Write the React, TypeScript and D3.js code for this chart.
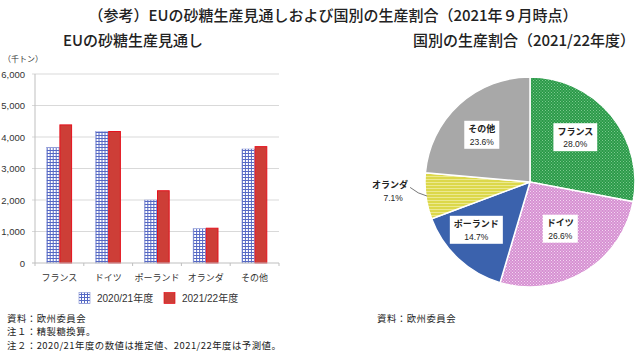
import { useRef, useEffect } from "react";
import * as d3 from "d3";

const categories = ["フランス", "ドイツ", "ポーランド", "オランダ", "その他"];
const seriesNames = ["2020/21年度", "2021/22年度"];
const values2021 = [3670, 4170, 2000, 1090, 3620];
const values2122 = [4400, 4190, 2310, 1120, 3710];
const yTicks = [0, 1000, 2000, 3000, 4000, 5000, 6000];

const pieNames = ["フランス", "ドイツ", "ポーランド", "オランダ", "その他"];
const pieShares = [28.0, 26.6, 14.7, 7.1, 23.6];

const footnotes = [
  "資料：欧州委員会",
  "注１：精製糖換算。",
  "注２：2020/21年度の数値は推定値、2021/22年度は予測値。",
];

const width = 640;
const height = 353;
const jp = "'Noto Sans CJK JP', 'Liberation Sans', sans-serif";
const num = "'Liberation Sans', 'Noto Sans CJK JP', sans-serif";

const App = () => {
  const svgRef = useRef<SVGSVGElement>(null);

  useEffect(() => {
    const svg = d3.select(svgRef.current).attr("width", width).attr("height", height);
    svg.selectAll("*").remove();

    // patterns
    const defs = svg.append("defs");
    const grid = defs.append("pattern").attr("id", "pGrid").attr("width", 3).attr("height", 3).attr("patternUnits", "userSpaceOnUse");
    grid.append("rect").attr("width", 3).attr("height", 3).attr("fill", "#ffffff");
    grid.append("rect").attr("width", 3).attr("height", 1).attr("fill", "#5568c4");
    grid.append("rect").attr("width", 1).attr("height", 3).attr("fill", "#5568c4");

    const dots = (id: string, base: string, dot: string) => {
      const p = defs.append("pattern").attr("id", id).attr("width", 3).attr("height", 3).attr("patternUnits", "userSpaceOnUse");
      p.append("rect").attr("width", 3).attr("height", 3).attr("fill", base);
      p.append("rect").attr("width", 1).attr("height", 1).attr("fill", dot);
      p.append("rect").attr("x", 1.5).attr("y", 1.5).attr("width", 1).attr("height", 1).attr("fill", dot);
    };
    dots("pGreen", "#2a9a48", "#7cc88f");
    dots("pPink", "#d690d2", "#f3d8f1");
    const yl = defs.append("pattern").attr("id", "pYellow").attr("width", 3).attr("height", 3).attr("patternUnits", "userSpaceOnUse");
    yl.append("rect").attr("width", 3).attr("height", 3).attr("fill", "#dcd84a");
    yl.append("rect").attr("width", 3).attr("height", 1).attr("fill", "#ece98f");

    // titles
    svg.append("text").attr("x", 333).attr("y", 14).attr("text-anchor", "middle").attr("dominant-baseline", "central")
      .attr("font-family", jp).attr("font-size", 15).attr("font-weight", 500).attr("fill", "#222")
      .text("（参考）EUの砂糖生産見通しおよび国別の生産割合（2021年９月時点）");
    svg.append("text").attr("x", 133).attr("y", 39).attr("text-anchor", "middle").attr("dominant-baseline", "central")
      .attr("font-family", jp).attr("font-size", 15).attr("font-weight", 500).attr("fill", "#222")
      .text("EUの砂糖生産見通し");
    svg.append("text").attr("x", 524).attr("y", 39).attr("text-anchor", "middle").attr("dominant-baseline", "central")
      .attr("font-family", jp).attr("font-size", 15).attr("font-weight", 500).attr("fill", "#222")
      .text("国別の生産割合（2021/22年度）");

    // bar chart
    const left = 35, right = 279, top = 74, bottom = 263;
    const x0 = d3.scaleBand().domain(categories).range([left, right]).paddingInner(0.48).paddingOuter(0.24);
    const x1 = d3.scaleBand().domain(seriesNames).range([0, x0.bandwidth()]);
    const y = d3.scaleLinear().domain([0, 6000]).range([bottom, top]);

    svg.append("text").attr("x", 3).attr("y", 58).attr("dominant-baseline", "central")
      .attr("font-family", jp).attr("font-size", 8).attr("fill", "#333").text("（千トン）");

    const g = svg.append("g");
    g.selectAll("line.grid").data(yTicks.filter((t) => t > 0)).enter().append("line")
      .attr("x1", left - 3).attr("x2", right).attr("y1", (d) => y(d)).attr("y2", (d) => y(d))
      .attr("stroke", "#d9d9d9").attr("stroke-width", 1);
    g.selectAll("text.yt").data(yTicks).enter().append("text")
      .attr("x", 25).attr("y", (d) => y(d)).attr("text-anchor", "end").attr("dominant-baseline", "central")
      .attr("font-family", num).attr("font-size", 9.5).attr("fill", "#333").text((d) => d3.format(",")(d));
    g.append("line").attr("x1", left).attr("x2", left).attr("y1", top).attr("y2", bottom).attr("stroke", "#bfbfbf");

    const groups = g.selectAll("g.cat").data(categories).enter().append("g")
      .attr("transform", (d) => `translate(${x0(d)},0)`);
    groups.append("rect")
      .attr("x", x1(seriesNames[0])!).attr("width", x1.bandwidth())
      .attr("y", (_, i) => y(values2021[i])).attr("height", (_, i) => bottom - y(values2021[i]))
      .attr("fill", "url(#pGrid)").attr("stroke", "#8e9ad8").attr("stroke-width", 0.5);
    groups.append("rect")
      .attr("x", x1(seriesNames[1])! + 0.5).attr("width", x1.bandwidth() - 1)
      .attr("y", (_, i) => y(values2122[i]) + 0.5).attr("height", (_, i) => bottom - y(values2122[i]) - 0.5)
      .attr("fill", "#cd3e37").attr("stroke", "#e5111c").attr("stroke-width", 1);

    g.append("line").attr("x1", left - 3).attr("x2", right).attr("y1", bottom).attr("y2", bottom).attr("stroke", "#bfbfbf");
    const step = x0.step();
    g.selectAll("line.xt").data(d3.range(categories.length + 1)).enter().append("line")
      .attr("x1", (i) => left + i * step).attr("x2", (i) => left + i * step)
      .attr("y1", bottom).attr("y2", bottom + 3).attr("stroke", "#bfbfbf");
    g.selectAll("text.xl").data(categories).enter().append("text")
      .attr("x", (d) => x0(d)! + x0.bandwidth() / 2).attr("y", 277).attr("text-anchor", "middle")
      .attr("dominant-baseline", "central").attr("font-family", jp).attr("font-size", 9).attr("fill", "#333").text((d) => d);

    // legend
    const leg = svg.append("g");
    const legX = [79, 164];
    const legFill = ["url(#pGrid)", "#cd3e37"];
    const legStroke = ["#8e9ad8", "#e5111c"];
    seriesNames.forEach((s, i) => {
      leg.append("rect").attr("x", legX[i]).attr("y", 292.5).attr("width", 11).attr("height", 11)
        .attr("fill", legFill[i]).attr("stroke", legStroke[i]).attr("stroke-width", 0.7);
      leg.append("text").attr("x", legX[i] + 18).attr("y", 298).attr("dominant-baseline", "central")
        .attr("font-family", num).attr("font-size", 10).attr("fill", "#333").text(s);
    });

    // footnotes
    svg.selectAll("text.fn").data(footnotes).enter().append("text")
      .attr("x", 7).attr("y", (_, i) => 317.5 + i * 13.8).attr("dominant-baseline", "central")
      .attr("font-family", jp).attr("font-size", 9.4).attr("letter-spacing", 0.5).attr("fill", "#222").text((d) => d);
    svg.append("text").attr("x", 377).attr("y", 317.5).attr("dominant-baseline", "central")
      .attr("font-family", jp).attr("font-size", 9.4).attr("letter-spacing", 0.5).attr("fill", "#222").text(footnotes[0]);

    // pie
    const cx = 530, cy = 182, r = 105;
    const pieColors = ["url(#pGreen)", "url(#pPink)", "#3b62ad", "url(#pYellow)", "#a8a8a8"];
    const arcs = d3.pie<number>().sort(null).value((d) => d)(pieShares);
    const arc = d3.arc<d3.PieArcDatum<number>>().innerRadius(0).outerRadius(r);
    const labelArc = d3.arc<d3.PieArcDatum<number>>().innerRadius(64).outerRadius(64);
    const pg = svg.append("g").attr("transform", `translate(${cx},${cy})`);
    pg.selectAll("path").data(arcs).enter().append("path")
      .attr("d", arc).attr("fill", (_, i) => pieColors[i]).attr("stroke", "#fff").attr("stroke-width", 1.5);

    const offsets = [[-4, -4], [-3, -8], [-10, 1], [0, 0], [-5, 0]];
    arcs.forEach((a, i) => {
      const pct = pieShares[i].toFixed(1) + "%";
      if (i === 3) {
        const ang = (a.startAngle + a.endAngle) / 2;
        const p1 = [Math.sin(ang) * (r - 1), -Math.cos(ang) * (r - 1)];
        const p2 = [Math.sin(ang + 0.09) * 120, -Math.cos(ang + 0.09) * 120];
        pg.append("path").attr("d", `M${p1[0]},${p1[1]} Q${p1[0] - 9},${p1[1] - 2} ${p2[0]},${p2[1]}`)
          .attr("fill", "none").attr("stroke", "#555").attr("stroke-width", 0.8);
        pg.append("text").attr("x", p2[0] - 2).attr("y", p2[1] - 3).attr("text-anchor", "end")
          .attr("dominant-baseline", "central").attr("font-family", jp).attr("font-size", 9).attr("font-weight", 700)
          .attr("fill", "#222").text(pieNames[i]);
        pg.append("text").attr("x", p2[0] - 17).attr("y", p2[1] + 11).attr("text-anchor", "middle")
          .attr("dominant-baseline", "central").attr("font-family", num).attr("font-size", 8.5)
          .attr("fill", "#222").text(pct);
        return;
      }
      const [lx, ly] = labelArc.centroid(a);
      const x = lx + offsets[i][0], yy = ly + offsets[i][1];
      const lg = pg.append("g");
      const box = lg.append("rect").attr("fill", "#fff");
      const t1 = lg.append("text").attr("x", x).attr("y", yy - 6).attr("text-anchor", "middle")
        .attr("dominant-baseline", "central").attr("font-family", jp).attr("font-size", 9).attr("font-weight", 700)
        .attr("fill", "#222").text(pieNames[i]);
      lg.append("text").attr("x", x).attr("y", yy + 7).attr("text-anchor", "middle")
        .attr("dominant-baseline", "central").attr("font-family", num).attr("font-size", 8.5)
        .attr("fill", "#222").text(pct);
      const w = (t1.node() as SVGTextElement).getComputedTextLength() + 8;
      box.attr("x", x - w / 2).attr("y", yy - 14).attr("width", w).attr("height", 28);
    });
  }, []);

  return (
    <div style={{ position: "absolute", left: 0, top: 0, background: "#fff" }}>
      <svg ref={svgRef} style={{ display: "block" }}></svg>
    </div>
  );
};

export default App;
